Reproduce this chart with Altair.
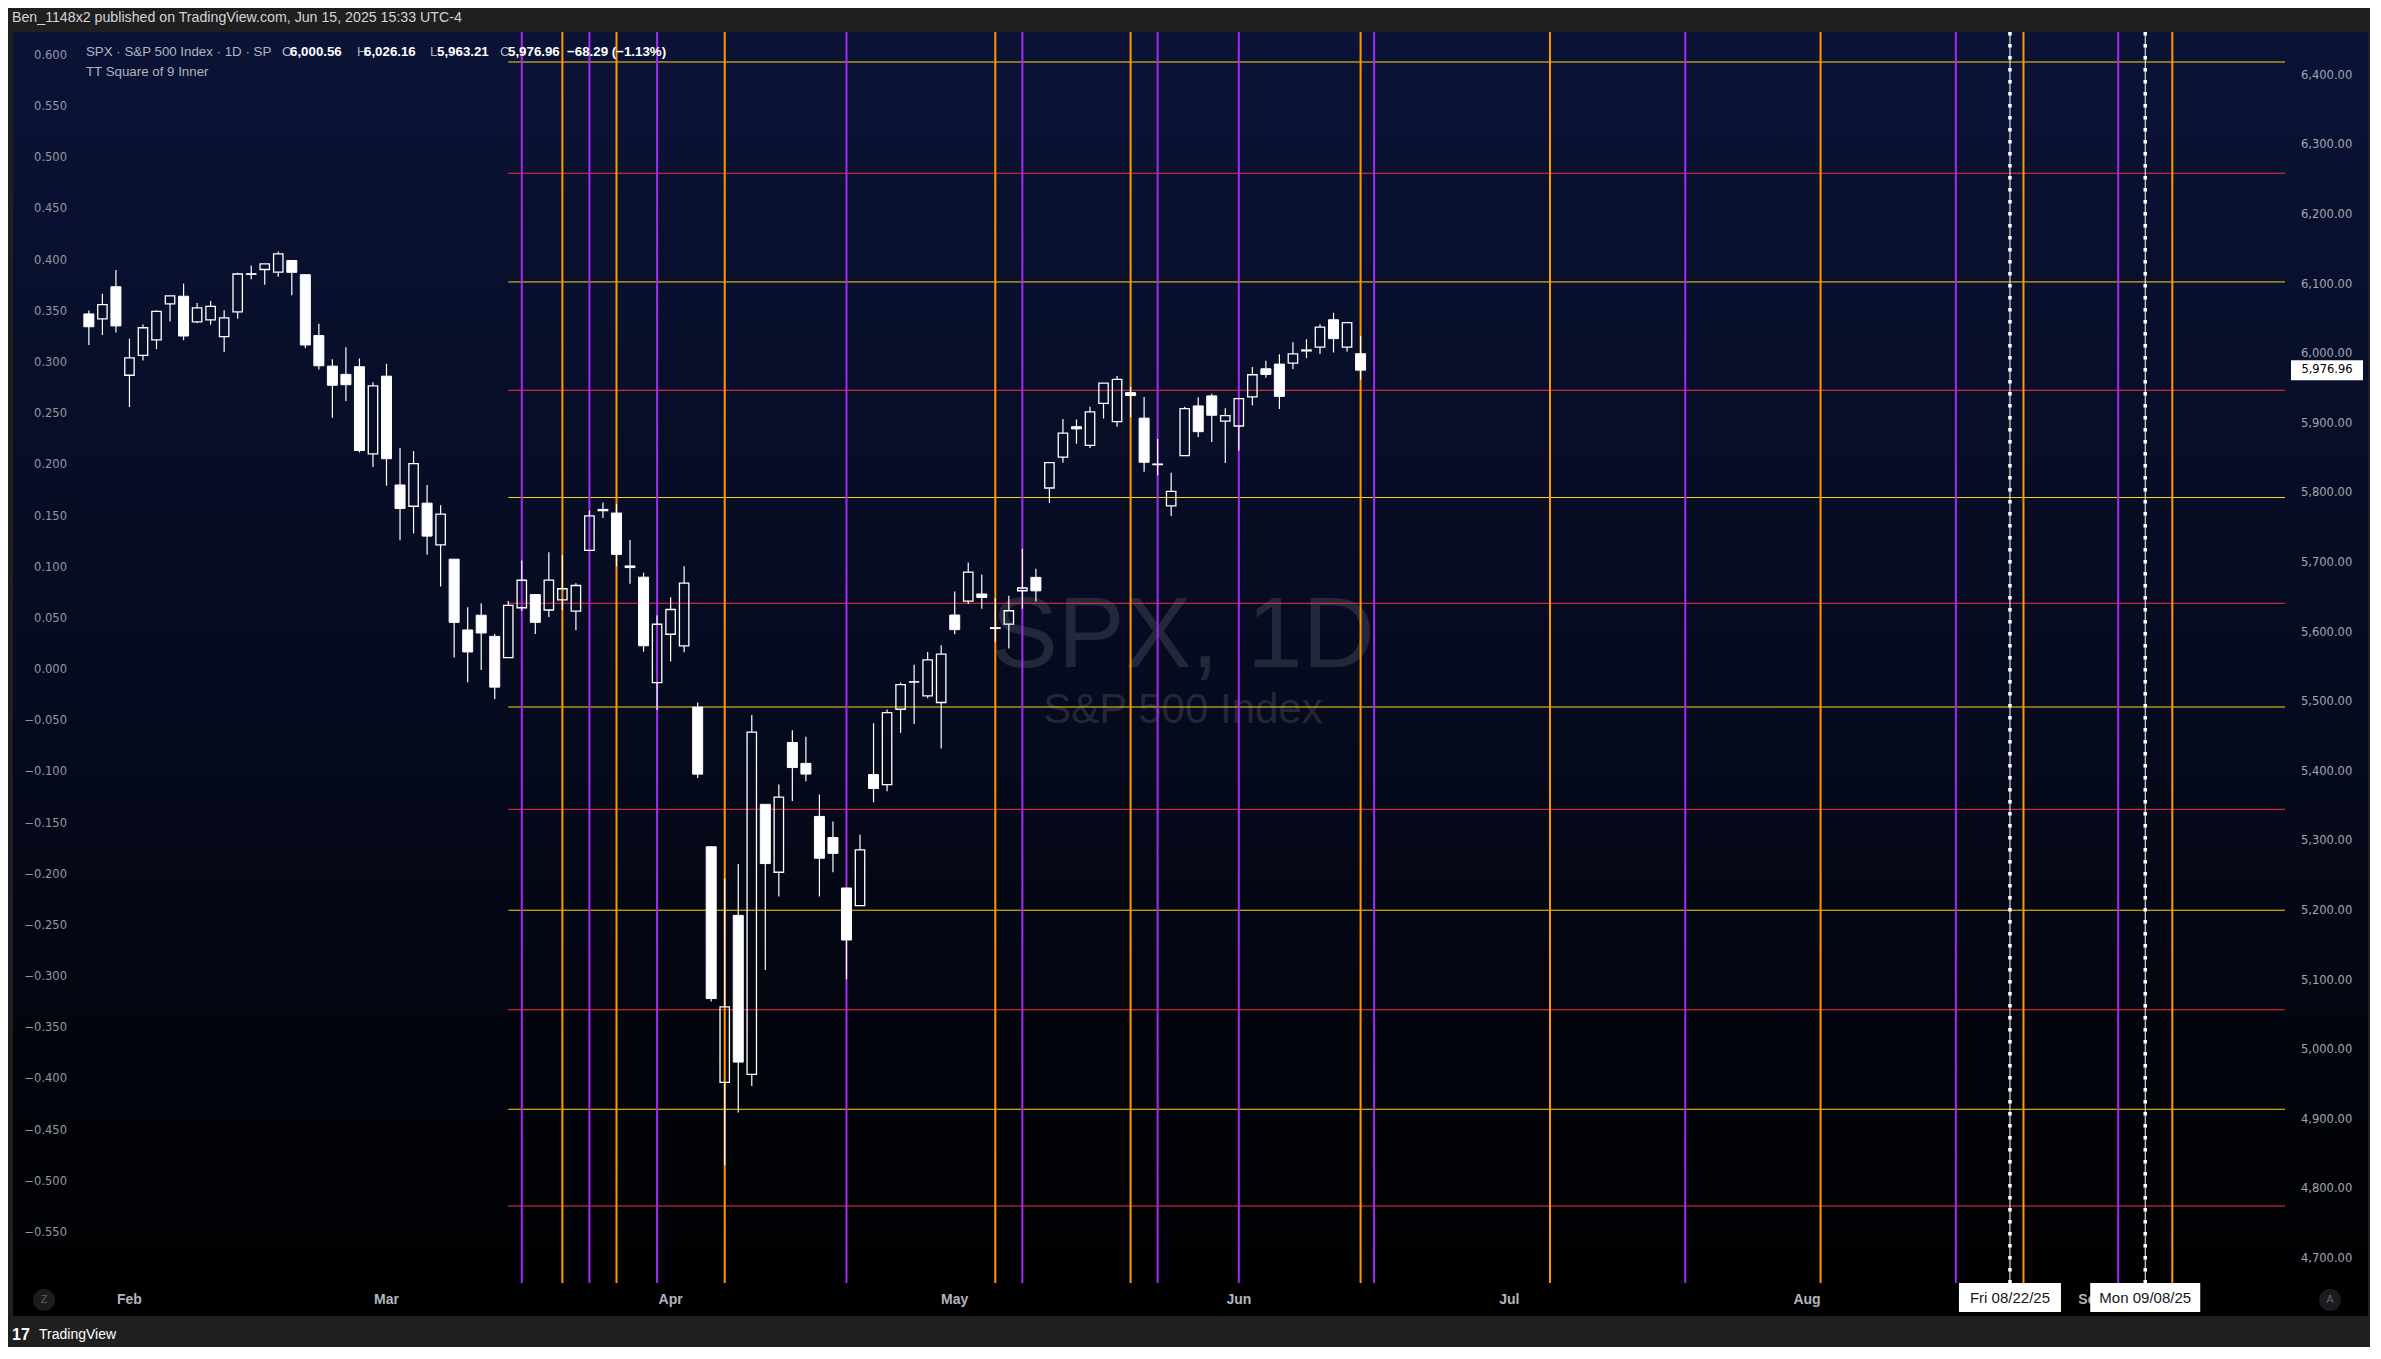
import altair as alt
import pandas as pd

# ---------------------------------------------------------------- data
CANDLE_START = "2025-01-29"
CANDLE_END = "2025-06-13"
CALENDAR_END = "2025-09-30"
HOLIDAYS = ["2025-02-17", "2025-04-18", "2025-05-26", "2025-06-19", "2025-07-04", "2025-09-01"]

OPEN = [6057.70, 6050.75, 6096.79, 5969.65, 5998.14, 6020.45, 6072.22, 6083.13, 6046.40, 6049.32,
        6025.08, 6060.59, 6115.52, 6121.60, 6117.76, 6134.50, 6114.10, 6026.69, 5982.73, 5970.87,
        5981.88, 5856.74, 5968.33, 5811.98, 5781.38, 5785.87, 5726.01, 5705.37, 5603.65, 5624.84,
        5594.45, 5563.85, 5635.60, 5654.53, 5632.37, 5646.92, 5630.73, 5718.08, 5775.14, 5771.66,
        5695.64, 5679.47, 5527.91, 5597.53, 5580.76, 5492.74, 5292.14, 4953.79, 5193.57, 4965.28,
        5353.15, 5255.56, 5441.96, 5411.99, 5335.75, 5305.45, 5232.94, 5207.67, 5395.92, 5381.38,
        5489.73, 5529.22, 5508.87, 5499.44, 5625.14, 5645.02, 5655.32, 5605.88, 5612.00, 5660.00,
        5679.24, 5807.66, 5852.00, 5895.70, 5869.00, 5929.09, 5902.88, 5944.66, 5908.00, 5841.26,
        5781.89, 5854.07, 5925.54, 5939.92, 5903.67, 5896.68, 5938.56, 5978.94, 5985.67, 5987.06,
        6004.60, 6009.91, 6049.38, 6009.90, 6000.56]
HIGH = [6062.83, 6086.64, 6120.91, 6022.13, 6042.48, 6062.86, 6084.03, 6101.28, 6073.38, 6076.28,
        6063.06, 6116.91, 6127.47, 6129.63, 6147.43, 6134.50, 6114.82, 6043.65, 5992.65, 6009.82,
        5993.69, 5959.40, 5986.09, 5865.08, 5860.59, 5812.08, 5783.01, 5705.37, 5636.30, 5642.19,
        5597.78, 5645.27, 5703.52, 5654.53, 5715.33, 5711.15, 5670.84, 5775.14, 5786.95, 5784.62,
        5732.90, 5685.89, 5624.95, 5650.57, 5695.31, 5499.53, 5292.14, 5246.57, 5267.47, 5481.34,
        5353.15, 5381.46, 5459.46, 5450.41, 5367.24, 5328.31, 5232.94, 5309.60, 5469.69, 5489.40,
        5528.11, 5553.66, 5571.95, 5581.84, 5658.91, 5700.70, 5683.36, 5649.27, 5653.00, 5720.10,
        5691.68, 5844.19, 5906.63, 5906.06, 5924.25, 5958.62, 5968.61, 5953.06, 5938.37, 5878.08,
        5829.51, 5924.33, 5938.00, 5943.13, 5922.14, 5937.40, 5981.35, 5990.48, 5999.70, 6016.87,
        6021.31, 6043.01, 6059.40, 6045.43, 6026.16]
LOW = [6012.96, 6027.46, 6030.93, 5923.93, 5990.87, 6007.06, 6046.83, 6019.96, 6044.84, 6042.34,
       6003.00, 6050.95, 6107.62, 6099.51, 6111.15, 6084.59, 6008.56, 5977.83, 5908.49, 5932.69,
       5858.78, 5837.66, 5810.91, 5732.59, 5742.35, 5711.64, 5666.29, 5564.02, 5528.41, 5546.09,
       5504.65, 5563.85, 5631.12, 5597.76, 5622.20, 5632.33, 5603.10, 5718.08, 5764.64, 5695.25,
       5670.11, 5572.42, 5488.73, 5558.52, 5571.48, 5390.83, 5069.90, 4835.04, 4910.42, 4948.43,
       5115.27, 5220.77, 5358.02, 5386.44, 5220.79, 5255.58, 5101.63, 5207.67, 5356.10, 5371.96,
       5455.86, 5468.64, 5505.70, 5433.24, 5597.35, 5641.00, 5634.00, 5586.00, 5577.00, 5634.00,
       5644.54, 5786.00, 5844.00, 5871.36, 5865.00, 5907.49, 5895.69, 5909.26, 5830.91, 5825.82,
       5767.41, 5854.07, 5881.00, 5873.80, 5843.66, 5861.43, 5926.00, 5966.11, 5921.20, 5978.63,
       5994.18, 6000.26, 6002.32, 6003.88, 5963.21]
CLOSE = [6039.31, 6071.17, 6040.53, 5994.57, 6037.88, 6061.48, 6083.57, 6025.99, 6066.44, 6068.50,
         6051.97, 6115.07, 6114.63, 6129.58, 6144.15, 6117.52, 6013.13, 5983.25, 5955.25, 5956.06,
         5861.57, 5954.50, 5849.72, 5778.15, 5842.63, 5738.52, 5770.20, 5614.56, 5572.07, 5599.30,
         5521.52, 5638.94, 5675.12, 5614.66, 5675.29, 5662.89, 5667.56, 5767.57, 5776.65, 5712.20,
         5693.31, 5580.94, 5611.85, 5633.07, 5670.97, 5396.52, 5074.08, 5062.25, 4982.77, 5456.90,
         5268.05, 5363.36, 5405.97, 5396.63, 5275.70, 5282.70, 5158.20, 5287.76, 5375.86, 5484.77,
         5525.21, 5528.75, 5560.83, 5569.06, 5604.14, 5686.67, 5650.38, 5606.91, 5631.28, 5663.94,
         5659.91, 5844.19, 5886.55, 5892.58, 5916.93, 5958.38, 5963.60, 5940.46, 5844.61, 5842.01,
         5802.82, 5921.54, 5888.55, 5912.17, 5911.69, 5935.94, 5970.37, 5970.81, 5939.30, 6000.36,
         6005.88, 6038.81, 6022.24, 6045.26, 5976.96]

LEVEL_START = "2025-03-14"
LEVELS = [6419.7, 6259.9, 6103.7, 5948.0, 5794.0, 5642.0, 5493.0, 5346.0, 5201.0, 5058.0, 4915.0, 4776.0]
LEVEL_KIND = ["gold", "red", "gold", "red", "gold", "red", "gold", "red", "gold", "red", "gold", "red"]

PURPLE_DATES = ["2025-03-17", "2025-03-24", "2025-03-31", "2025-04-21", "2025-05-08", "2025-05-22",
                "2025-06-02", "2025-06-16", "2025-07-21", "2025-08-18", "2025-09-04"]
ORANGE_DATES = ["2025-03-20", "2025-03-26", "2025-04-07", "2025-05-06", "2025-05-20", "2025-06-13",
                "2025-07-07", "2025-08-04", "2025-08-25", "2025-09-10"]
DOTTED_DATES = ["2025-08-22", "2025-09-08"]
DOTTED_LABELS = ["Fri 08/22/25", "Mon 09/08/25"]

PRICE_TICKS = [4700, 4800, 4900, 5000, 5100, 5200, 5300, 5400, 5500, 5600,
               5700, 5800, 5900, 6000, 6100, 6200, 6300, 6400]
LEFT_TICKS = [0.60, 0.55, 0.50, 0.45, 0.40, 0.35, 0.30, 0.25, 0.20, 0.15, 0.10, 0.05, 0.0,
              -0.05, -0.10, -0.15, -0.20, -0.25, -0.30, -0.35, -0.40, -0.45, -0.50, -0.55]
MONTH_LABELS = ["Feb", "Mar", "Apr", "May", "Jun", "Jul", "Aug", "Sep"]
MONTH_NUMBERS = [2, 3, 4, 5, 6, 7, 8, 9]

LAST_PRICE = 5976.96
LAST_PRICE_TEXT = "5,976.96"

# ---------------------------------------------------------------- layout / style
PW, PH = 2220, 1251
X_DOMAIN = [-1.025, 162.33]
Y_DOMAIN = [4665.4, 6462.8]
L_DOMAIN = [-0.5989, 0.6234]

UI_FONT = "Liberation Sans, Arial, sans-serif"
AX_FONT = "DejaVu Sans"
PURPLE = "#a22cf2"
ORANGE = "#ff9800"
GOLD = "#ffd21a"
RED = "#f23645"

xs = alt.Scale(domain=X_DOMAIN, nice=False, zero=False)
ys = alt.Scale(domain=Y_DOMAIN, nice=False, zero=False)
ls = alt.Scale(domain=L_DOMAIN, nice=False, zero=False)

# ---------------------------------------------------------------- calendar (trading days)
cal = pd.bdate_range(CANDLE_START, CALENDAR_END, freq="C", holidays=HOLIDAYS)
pos = {d.strftime("%Y-%m-%d"): i for i, d in enumerate(cal)}

df = pd.DataFrame({"o": OPEN, "h": HIGH, "l": LOW, "c": CLOSE})
df["i"] = range(len(df))
df["top"] = df[["o", "c"]].max(axis=1)
df["bot"] = df[["o", "c"]].min(axis=1)
df["up"] = df["c"] >= df["o"]

lvl = pd.DataFrame({"y": LEVELS, "kind": LEVEL_KIND})
lvl["x0"] = pos[LEVEL_START]
lvl["x1"] = X_DOMAIN[1]
lvl["col"] = lvl["kind"].map({"gold": GOLD, "red": RED})

vl = pd.DataFrame({"x": [pos[d] for d in PURPLE_DATES + ORANGE_DATES],
                   "col": [PURPLE] * len(PURPLE_DATES) + [ORANGE] * len(ORANGE_DATES)})
dl = pd.DataFrame({"x": [pos[d] for d in DOTTED_DATES], "lbl": DOTTED_LABELS,
                   "path": ["M-1,-0.284H1V0.284H-1Z", "M-1,-0.264H1V0.264H-1Z"],
                   "sz": [102 ** 2, 110 ** 2]})

months = []
for name, m in zip(MONTH_LABELS, MONTH_NUMBERS):
    first = [d for d in cal if d.month == m][0]
    months.append({"x": pos[first.strftime("%Y-%m-%d")], "lbl": name})
mdf = pd.DataFrame(months)

rt = pd.DataFrame({"p": PRICE_TICKS, "lbl": [f"{v:,.2f}" for v in PRICE_TICKS]})
lt = pd.DataFrame({"v": LEFT_TICKS,
                   "lbl": [f"{v:.3f}".replace("-", "\u2212") if abs(v) > 1e-9 else "0.000" for v in LEFT_TICKS]})

one = pd.DataFrame({"a": [1]})


def label(txt, x, y, size, color, align="left", font=UI_FONT, weight="normal", baseline="middle", opacity=1):
    return alt.Chart(pd.DataFrame({"t": [txt]})).mark_text(
        align=align, baseline=baseline, fontSize=size, font=font, color=color,
        fontWeight=weight, opacity=opacity
    ).encode(x=alt.value(x), y=alt.value(y), text="t:N")


X = lambda f: alt.X(f, scale=xs, axis=None)
Y = lambda f: alt.Y(f, scale=ys, axis=None)

# ---------------------------------------------------------------- layers
pane = alt.Chart(one).mark_rect(
    color=alt.LinearGradient(gradient="linear",
                             stops=[alt.GradientStop(color="#0b1336", offset=0),
                                    alt.GradientStop(color="#050a1d", offset=0.55),
                                    alt.GradientStop(color="#000000", offset=1)],
                             x1=0, x2=0, y1=0, y2=1)
).encode(x=alt.value(-57), x2=alt.value(2298), y=alt.value(0), y2=alt.value(1284))

wm1 = label("SPX, 1D", 1113, 635, 100, "#9598a1", align="center", font="Liberation Sans, sans-serif",
            baseline="alphabetic", opacity=0.2)
wm2 = label("S&P 500 Index", 1113, 691, 42, "#9598a1", align="center", font="Liberation Sans, sans-serif",
            baseline="alphabetic", opacity=0.2)

levels = alt.Chart(lvl).mark_rule(strokeWidth=1).encode(
    x=X("x0:Q"), x2="x1:Q", y=Y("y:Q"), color=alt.Color("col:N", scale=None))

verts = alt.Chart(vl).mark_rule(strokeWidth=2).encode(
    x=X("x:Q"), y=alt.value(0), y2=alt.value(PH), color=alt.Color("col:N", scale=None))

dot_thin = alt.Chart(dl).mark_rule(strokeWidth=1, color="white").encode(
    x=X("x:Q"), y=alt.value(0), y2=alt.value(PH))
dot_sq = alt.Chart(dl).mark_rule(strokeWidth=3.5, color="white", strokeDash=[3.5, 8.5]).encode(
    x=X("x:Q"), y=alt.value(0), y2=alt.value(PH))

wick_up = alt.Chart(df).mark_rule(color="white", strokeWidth=1.2).encode(
    x=X("i:Q"), y=Y("h:Q"), y2="top:Q")
wick_dn = alt.Chart(df).mark_rule(color="white", strokeWidth=1.2).encode(
    x=X("i:Q"), y=Y("bot:Q"), y2="l:Q")
body_dn = alt.Chart(df[~df["up"]]).mark_bar(width=10, color="white", stroke="white", strokeWidth=1).encode(
    x=X("i:Q"), y=Y("top:Q"), y2="bot:Q")
body_up = alt.Chart(df[df["up"]]).mark_bar(width=9.4, filled=False, color="white", strokeWidth=1.3).encode(
    x=X("i:Q"), y=Y("top:Q"), y2="bot:Q")

# right price axis
right_lbls = alt.Chart(rt).mark_text(align="left", baseline="middle", fontSize=11.5, font=AX_FONT,
                                     color="#a3a6af").encode(x=alt.value(2231), y=Y("p:Q"), text="lbl:N")
tag_box = alt.Chart(pd.DataFrame({"p": [LAST_PRICE]})).mark_point(
    shape="M-1,-0.278H1V0.278H-1Z", size=72 ** 2, filled=True, color="white", opacity=1, strokeWidth=0
).encode(x=alt.value(2257), y=Y("p:Q"))
tag_txt = alt.Chart(pd.DataFrame({"p": [LAST_PRICE], "t": [LAST_PRICE_TEXT]})).mark_text(
    align="center", baseline="middle", fontSize=11.5, font=AX_FONT, color="#000000"
).encode(x=alt.value(2257), y=Y("p:Q"), text="t:N")

# left indicator axis
left_lbls = alt.Chart(lt).mark_text(align="right", baseline="middle", fontSize=11.5, font=AX_FONT,
                                    color="#9598a1").encode(
    x=alt.value(-3), y=alt.Y("v:Q", scale=ls, axis=None), text="lbl:N")

# time axis
month_lbls = alt.Chart(mdf).mark_text(align="center", baseline="middle", fontSize=14, font=UI_FONT,
                                      color="#b2b5be", fontWeight="bold").encode(
    x=X("x:Q"), y=alt.value(1268), text="lbl:N")
date_box = alt.Chart(dl).mark_point(filled=True, color="white", opacity=1, strokeWidth=0).encode(
    x=X("x:Q"), y=alt.value(1265.5), shape=alt.Shape("path:N", scale=None),
    size=alt.Size("sz:Q", scale=None))
date_txt = alt.Chart(dl).mark_text(align="center", baseline="middle", fontSize=15, font=UI_FONT,
                                   color="#131722").encode(x=X("x:Q"), y=alt.value(1266), text="lbl:N")

circles = alt.Chart(pd.DataFrame({"cx": [-26, 2260], "t": ["Z", "A"]})).mark_point(
    shape="circle", size=484, filled=True, color="#1c1c1f", opacity=1).encode(
    x=alt.X("cx:Q", scale=None, axis=None), y=alt.value(1268))
circle_txt = alt.Chart(pd.DataFrame({"cx": [-26, 2260], "t": ["Z", "A"]})).mark_text(
    fontSize=11, font=UI_FONT, color="#5d606b", baseline="middle").encode(
    x=alt.X("cx:Q", scale=None, axis=None), y=alt.value(1268), text="t:N")

# header / legend / footer texts
hdr = label("Ben_1148x2 published on TradingView.com, Jun 15, 2025 15:33 UTC-4", -58, -14, 14.2, "#d1d4dc")
LY1, LY2, LS = 20, 40, 13.3
leg = [
    label("SPX \u00b7 S&P 500 Index \u00b7 1D \u00b7 SP", 16, LY1, LS, "#b2b5be"),
    label("O", 212, LY1, LS, "#b2b5be"), label("6,000.56", 220, LY1, LS, "#ffffff", weight="bold"),
    label("H", 287, LY1, LS, "#b2b5be"), label("6,026.16", 294, LY1, LS, "#ffffff", weight="bold"),
    label("L", 360, LY1, LS, "#b2b5be"), label("5,963.21", 367, LY1, LS, "#ffffff", weight="bold"),
    label("C", 430, LY1, LS, "#b2b5be"), label("5,976.96", 438, LY1, LS, "#ffffff", weight="bold"),
    label("\u221268.29 (\u22121.13%)", 497, LY1, LS, "#ffffff", weight="bold"),
    label("TT Square of 9 Inner", 16, LY2, LS, "#b2b5be"),
]
foot = [
    label("17", -58, 1303, 16, "#ffffff", weight="bold"),
    label("TradingView", -31, 1303, 14, "#ffffff"),
]

layers = [pane, wm1, wm2, levels, verts, dot_thin, dot_sq, wick_up, wick_dn, body_dn, body_up,
          right_lbls, tag_box, tag_txt, left_lbls, month_lbls, date_box, date_txt,
          circles, circle_txt, hdr] + leg + foot

chart = alt.layer(*layers).resolve_scale(y="independent").properties(
    width=PW, height=PH,
    padding={"left": 62, "top": 24, "right": 80, "bottom": 64},
    autosize=alt.AutoSizeParams(type="none"),
    background="#1f1f1f",
).configure_view(stroke=None)

chart.save("out.html", embed_options={"renderer": "svg", "actions": False})
